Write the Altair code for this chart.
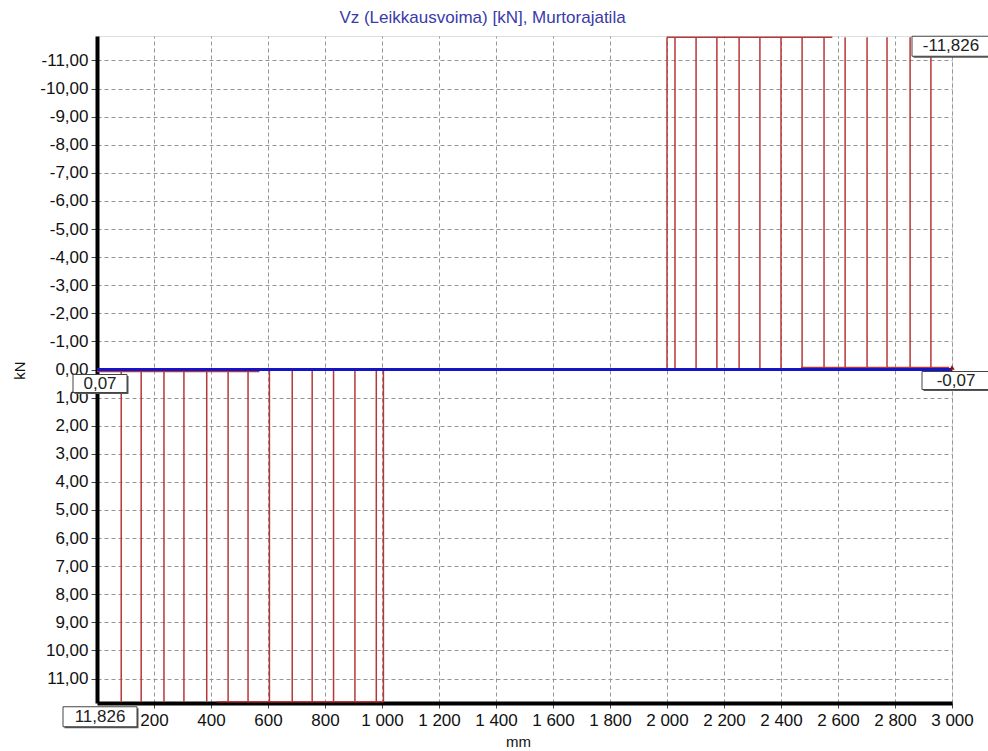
import altair as alt
import pandas as pd

# ---- data ----
left_hatch_x = [85, 155, 235, 305, 385, 460, 530, 605, 685, 755, 830, 905, 980, 1005]
right_hatch_x = [2000, 2028, 2102, 2175, 2253, 2326, 2400, 2474, 2551, 2625, 2702, 2772, 2853, 2926]
vz_left = 11.826
vz_right = -11.826
vz_start = 0.07
vz_end = -0.07

seg_x = [420, 2000, 0, 2470]
seg_x2 = [1005, 2580, 570, 2990]
seg_y = [vz_left, vz_right, vz_start, vz_end]

x_ticks = list(range(200, 3001, 200))
y_ticks = list(range(-11, 12))

FONT = "Liberation Sans"
RED = "#b53838"

xs = alt.Scale(domain=[0, 3000], nice=False, zero=False)
ys = alt.Scale(domain=[-11.87, 11.87], nice=False, zero=False, reverse=True)

hatch = pd.DataFrame({
    "x": left_hatch_x + right_hatch_x,
    "y0": [0.0] * (len(left_hatch_x) + len(right_hatch_x)),
    "y1": [vz_left] * len(left_hatch_x) + [vz_right] * len(right_hatch_x),
})

segs = pd.DataFrame({"x": seg_x, "x2": seg_x2, "y": seg_y})
zero_line = pd.DataFrame({"x": [0], "x2": [3000], "y": [0.0]})

x_axis = alt.Axis(
    values=x_ticks,
    labelExpr="replace(format(datum.value, ','), ',', ' ')",
    labelOverlap=False,
    labelFlush=False,
    title="mm",
    grid=True,
    gridDash=[4, 3],
    gridColor="#959595",
    gridWidth=1,
    domainColor="#000",
    domainWidth=4,
    tickColor="#444",
    tickSize=5,
    labelPadding=4,
    labelFont=FONT,
    labelFontSize=17,
    labelColor="#111",
    titleFont=FONT,
    titleFontSize=15,
    titleFontWeight="normal",
    titleColor="#111",
    titleX=421,
    titleY=43,
    titleBaseline="alphabetic",
)

y_axis = alt.Axis(
    values=y_ticks,
    labelExpr="(datum.value < 0 ? '-' : '') + replace(format(abs(datum.value), '.2f'), '.', ',')",
    labelOverlap=False,
    labelFlush=False,
    title="kN",
    grid=True,
    gridDash=[4, 3],
    gridColor="#959595",
    gridWidth=1,
    domainColor="#000",
    domainWidth=4,
    tickColor="#444",
    tickSize=6,
    labelPadding=3,
    labelFont=FONT,
    labelFontSize=17,
    labelColor="#111",
    titleFont=FONT,
    titleFontSize=15,
    titleFontWeight="normal",
    titleColor="#111",
    titleX=-78,
    titleY=334,
    titleAngle=270,
    titleAlign="center",
    titleBaseline="middle",
)

hatch_layer = alt.Chart(hatch).mark_rule(color=RED, strokeWidth=1.5).encode(
    x=alt.X("x:Q", scale=xs, axis=x_axis),
    y=alt.Y("y0:Q", scale=ys, axis=y_axis),
    y2="y1:Q",
)

seg_layer = alt.Chart(segs).mark_rule(color=RED, strokeWidth=1.5).encode(
    x=alt.X("x:Q", scale=xs, axis=x_axis),
    x2="x2:Q",
    y=alt.Y("y:Q", scale=ys, axis=y_axis),
)

zero_layer = alt.Chart(zero_line).mark_rule(color="#1414c8", strokeWidth=3).encode(
    x=alt.X("x:Q", scale=xs, axis=x_axis),
    x2="x2:Q",
    y=alt.Y("y:Q", scale=ys, axis=y_axis),
)

end_marker = alt.Chart(pd.DataFrame({"x": [3000], "y": [0.0]})).mark_point(
    shape="triangle-up", size=30, filled=True, color="#8a1010", opacity=1, yOffset=-2
).encode(x=alt.X("x:Q", scale=xs, axis=x_axis), y=alt.Y("y:Q", scale=ys, axis=y_axis))


def label_box(xv, yv, text, w, h, dx, dy):
    src = pd.DataFrame({"x": [xv], "y": [yv], "t": [text]})
    r = h / w
    path = f"M-1,{-r:.4f}H1V{r:.4f}H-1Z"
    size = w * w
    base = alt.Chart(src).encode(
        x=alt.X("x:Q", scale=xs, axis=x_axis), y=alt.Y("y:Q", scale=ys, axis=y_axis)
    )
    shadow = base.mark_point(
        shape=path, size=size, filled=True, fill="#555", strokeWidth=0, opacity=1,
        xOffset=dx + 1.5, yOffset=dy + 1.5,
    )
    box = base.mark_point(
        shape=path, size=size, filled=True, fill="white", stroke="#444", strokeWidth=1,
        opacity=1, xOffset=dx, yOffset=dy,
    )
    txt = base.mark_text(
        font=FONT, fontSize=17, color="#222", dx=dx, dy=dy, align="center", baseline="middle"
    ).encode(text="t:N")
    return [shadow, box, txt]


boxes = []
boxes += label_box(0, 0.0, "0,07", 54, 18, 3, 14)
boxes += label_box(0, vz_left, "11,826", 74, 20, 3, 15)
boxes += label_box(3000, vz_right, "-11,826", 78, 20, -1, 9)
boxes += label_box(3000, 0.0, "-0,07", 68, 18, 4, 11)

chart = alt.layer(
    hatch_layer, seg_layer, zero_layer, end_marker, *boxes
).properties(
    width=855,
    height=667,
    title=alt.TitleParams(
        "Vz (Leikkausvoima) [kN], Murtorajatila",
        font=FONT,
        fontSize=17,
        fontWeight="normal",
        color="#3a3aaa",
        anchor="middle",
        frame="group",
        dx=-42,
        dy=19,
        offset=13,
        baseline="alphabetic",
    ),
    autosize=alt.AutoSizeParams(type="none"),
    padding={"left": 97, "top": 36, "right": 36, "bottom": 48},
).configure_view(
    stroke="#222", strokeWidth=1.5
).configure_axis(
    labelOverlap=False, labelFlush=False
).configure(background="white")

chart.save("out.html", embed_options={"renderer": "svg", "actions": False})
